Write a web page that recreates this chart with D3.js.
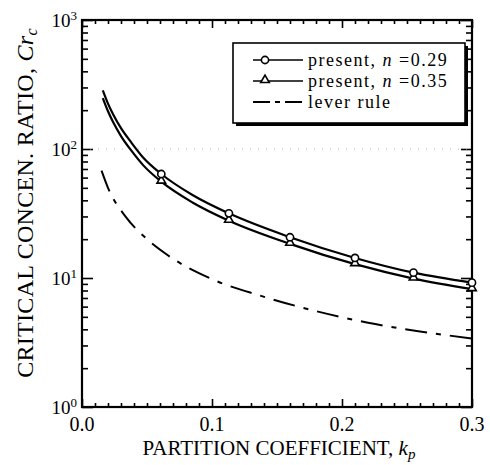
<!DOCTYPE html>
<html>
<head>
<meta charset="utf-8">
<script src="https://cdn.jsdelivr.net/npm/d3@7"></script>
<style>
  body { margin: 0; background: #fff; }
  text { font-family: "Liberation Serif", "Times New Roman", serif; fill: #000; }
</style>
</head>
<body>
<div id="chart"></div>
<script>
// values
const kp29 = [0.016, 0.02, 0.024, 0.03, 0.038, 0.047, 0.061, 0.085, 0.113, 0.16, 0.21, 0.255, 0.3];
const cr29 = [285, 225, 185, 145, 112, 86, 64, 44, 31.7, 20.7, 14.3, 11.0, 9.2];
const kp35 = [0.016, 0.02, 0.024, 0.03, 0.038, 0.047, 0.061, 0.085, 0.113, 0.16, 0.21, 0.255, 0.3];
const cr35 = [248, 196, 161, 126, 97, 75, 55.8, 38.5, 27.8, 18.4, 12.8, 9.9, 8.2];
const markerKp = [0.061, 0.113, 0.16, 0.21, 0.255, 0.3];
const kpLever = [0.015, 0.02, 0.034, 0.05, 0.066, 0.1, 0.137, 0.175, 0.22, 0.26, 0.3];
const crLever = [68, 50, 29.5, 20, 15, 9.8, 7.3, 5.7, 4.5, 3.85, 3.4];

const xTicks = [0, 0.1, 0.2, 0.3];
const xTickLabels = ["0.0", "0.1", "0.2", "0.3"];
const yDecades = [1, 10, 100, 1000];
const yExponents = ["0", "1", "2", "3"];

const W = 490, H = 465;
const margin = {top: 20, right: 18, bottom: 58, left: 82};
const w = W - margin.left - margin.right,
  h = H - margin.top - margin.bottom;

let svg = d3.select("#chart").append("svg")
  .attr("width", W)
  .attr("height", H);

let g = svg.append("g")
  .attr("transform", `translate(${margin.left},${margin.top})`);

let x = d3.scaleLinear().domain([0, 0.3]).range([0, w]);
let y = d3.scaleLog().domain([1, 1000]).range([h, 0]);

// minor ticks
let xMinor = d3.range(0, 31).map(i => i / 100).filter(v => xTicks.indexOf(v) < 0);
let yMinor = [];
[1, 10, 100].forEach(d => { for (let k = 2; k <= 9; k++) yMinor.push(d * k); });

function styleAxis(sel) {
  sel.select(".domain").remove();
  sel.selectAll("line").attr("stroke", "#000").attr("stroke-width", 1.6);
  sel.selectAll("text").remove();
}

// bottom / top
g.append("g").attr("transform", `translate(0,${h})`)
  .call(d3.axisBottom(x).tickValues(xTicks).tickSize(-8)).call(styleAxis);
g.append("g").attr("transform", `translate(0,${h})`)
  .call(d3.axisBottom(x).tickValues(xMinor).tickSize(-4)).call(styleAxis);
g.append("g")
  .call(d3.axisTop(x).tickValues(xTicks).tickSize(-8)).call(styleAxis);
g.append("g")
  .call(d3.axisTop(x).tickValues(xMinor).tickSize(-4)).call(styleAxis);

// left / right
g.append("g")
  .call(d3.axisLeft(y).tickValues(yDecades).tickSize(-11)).call(styleAxis);
g.append("g")
  .call(d3.axisLeft(y).tickValues(yMinor).tickSize(-6)).call(styleAxis);
g.append("g").attr("transform", `translate(${w},0)`)
  .call(d3.axisRight(y).tickValues(yDecades).tickSize(-11)).call(styleAxis);
g.append("g").attr("transform", `translate(${w},0)`)
  .call(d3.axisRight(y).tickValues(yMinor).tickSize(-6)).call(styleAxis);

// faint dotted residue at 10^2
g.append("line")
  .attr("x1", 0).attr("x2", w)
  .attr("y1", y(100)).attr("y2", y(100))
  .attr("stroke", "#bbb").attr("stroke-width", 1)
  .attr("stroke-dasharray", "1,7");

// frame
g.append("rect")
  .attr("width", w).attr("height", h)
  .attr("fill", "none").attr("stroke", "#000").attr("stroke-width", 2.2);

// tick labels
g.selectAll(".xlab").data(xTicks).enter().append("text")
  .attr("x", d => x(d)).attr("y", h + 24)
  .attr("text-anchor", "middle")
  .style("font-size", "20px")
  .text((d, i) => xTickLabels[i]);

let ylab = g.selectAll(".ylab").data(yDecades).enter().append("text")
  .attr("x", -5).attr("y", d => y(d) + 7)
  .attr("text-anchor", "end")
  .style("font-size", "19px");
ylab.append("tspan").text("10");
ylab.append("tspan").attr("dy", -7).style("font-size", "13px").text((d, i) => yExponents[i]);

// axis titles
let xt = svg.append("text")
  .attr("x", margin.left + w / 2 + 2).attr("y", 455)
  .attr("text-anchor", "middle")
  .style("font-size", "21px");
xt.append("tspan").text("PARTITION COEFFICIENT, ");
xt.append("tspan").style("font-style", "italic").text("k");
xt.append("tspan").attr("dy", 4).style("font-style", "italic").style("font-size", "15px").text("p");

let yt = svg.append("text")
  .attr("transform", "translate(33,203) rotate(-90)")
  .attr("text-anchor", "middle")
  .style("font-size", "24px")
  .style("letter-spacing", "0.3px");
yt.append("tspan").text("CRITICAL CONCEN. RATIO, ");
yt.append("tspan").style("font-style", "italic").text("Cr");
yt.append("tspan").attr("dy", 4).style("font-style", "italic").style("font-size", "16px").text("c");

// curves
let line = d3.line()
  .x(d => x(d[0]))
  .y(d => y(d[1]))
  .curve(d3.curveMonotoneX);

let s29 = kp29.map((k, i) => [k, cr29[i]]);
let s35 = kp35.map((k, i) => [k, cr35[i]]);
let sLever = kpLever.map((k, i) => [k, crLever[i]]);

g.append("path").datum(s29).attr("d", line)
  .attr("fill", "none").attr("stroke", "#000").attr("stroke-width", 2.2);
g.append("path").datum(s35).attr("d", line)
  .attr("fill", "none").attr("stroke", "#000").attr("stroke-width", 2.2);
g.append("path").datum(sLever).attr("d", line)
  .attr("fill", "none").attr("stroke", "#000").attr("stroke-width", 2)
  .attr("stroke-dasharray", "22,9,5,9");

function valueAt(kps, crs, k) {
  return crs[kps.indexOf(k)];
}

let tri = d3.symbol().type(d3.symbolTriangle).size(32);

g.selectAll(".m35").data(markerKp).enter().append("path")
  .attr("d", tri)
  .attr("transform", d => `translate(${x(d)},${y(valueAt(kp35, cr35, d)) - 1})`)
  .attr("fill", "#fff").attr("stroke", "#000").attr("stroke-width", 1.6);

g.selectAll(".m29").data(markerKp).enter().append("circle")
  .attr("cx", d => x(d)).attr("cy", d => y(valueAt(kp29, cr29, d)))
  .attr("r", 3.6)
  .attr("fill", "#fff").attr("stroke", "#000").attr("stroke-width", 1.6);

// legend
let lg = svg.append("g").attr("transform", "translate(233,43)");
lg.append("rect").attr("x", 3).attr("y", 3).attr("width", 232).attr("height", 80).attr("fill", "#000");
lg.append("rect").attr("width", 232).attr("height", 80)
  .attr("fill", "#fff").attr("stroke", "#000").attr("stroke-width", 1.6);

const legendLabels = ["0.29", "0.35", null];
const rowY = [17, 38, 59];

legendLabels.forEach((lab, i) => {
  let ly = rowY[i];
  let ln = lg.append("line")
    .attr("x1", 20).attr("x2", 70).attr("y1", ly).attr("y2", ly)
    .attr("stroke", "#000").attr("stroke-width", i < 2 ? 1.5 : 1.8);
  if (i == 2) ln.attr("stroke-dasharray", "17,5,5,5");
  if (i == 0) {
    lg.append("circle").attr("cx", 32).attr("cy", ly).attr("r", 3.6)
      .attr("fill", "#fff").attr("stroke", "#000").attr("stroke-width", 1.6);
  } else if (i == 1) {
    lg.append("path").attr("d", tri).attr("transform", `translate(32,${ly - 1})`)
      .attr("fill", "#fff").attr("stroke", "#000").attr("stroke-width", 1.6);
  }
  let t = lg.append("text").attr("x", 75).attr("y", ly + 6)
    .style("font-size", "18px").style("letter-spacing", "1.5px");
  if (lab) {
    t.append("tspan").text("present, ");
    t.append("tspan").style("font-style", "italic").text("n");
    t.append("tspan").text(" =" + lab);
  } else {
    t.text("lever rule");
  }
});
</script>
</body>
</html>
